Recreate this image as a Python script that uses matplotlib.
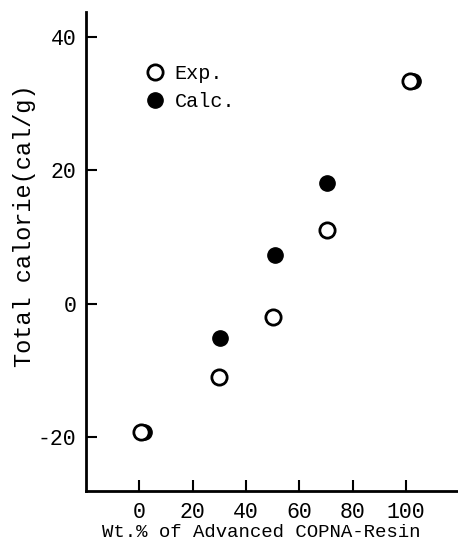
import matplotlib
matplotlib.use("Agg")
import matplotlib.pyplot as plt

# values
exp_x = [0.5, 30.0, 50.2, 70.3, 101.5]
exp_y = [-19.2, -11.0, -2.0, 11.0, 33.4]
calc_x = [1.8, 30.4, 50.7, 70.5, 102.6]
calc_y = [-19.2, -5.1, 7.3, 18.0, 33.4]

xticks = [0, 20, 40, 60, 80, 100]
yticks = [-20, 0, 20, 40]

font = "Liberation Mono"
plt.rcParams["axes.unicode_minus"] = False

fig = plt.figure(figsize=(4.58, 5.41), dpi=100)
ax = fig.add_axes([86 / 458, 50 / 541, 372 / 458, 479 / 541])

ax.plot(calc_x, calc_y, "o", color="black", markersize=11, label="Calc.", zorder=3)
ax.plot(exp_x, exp_y, "o", markerfacecolor="white", markeredgecolor="black",
        markeredgewidth=2, markersize=11, label="Exp.", zorder=4)

ax.set_xlim(-20, 119.5)
ax.set_ylim(-28.1, 43.7)
ax.set_xticks(xticks)
ax.set_yticks(yticks)

for side in ["top", "right"]:
    ax.spines[side].set_visible(False)
for side in ["left", "bottom"]:
    ax.spines[side].set_linewidth(2)

ax.tick_params(axis="both", direction="in", width=1.5, length=8, labelsize=15.5)
ax.tick_params(axis="x", pad=8)
ax.tick_params(axis="y", pad=7)
for lab in ax.get_xticklabels() + ax.get_yticklabels():
    lab.set_family(font)

ax.set_xlabel("Wt.% of Advanced COPNA-Resin", fontsize=13.7, family=font)
ax.xaxis.set_label_coords(0.47, -0.068)
ax.set_ylabel("Total calorie(cal/g)", fontsize=17, family=font)
ax.yaxis.set_label_coords(-0.134, 0.553)

handles, labels = ax.get_legend_handles_labels()
leg = ax.legend(handles[::-1], labels[::-1], loc="upper left",
                bbox_to_anchor=(0.114, 0.93), frameon=False,
                handlelength=0.8, handletextpad=0.6, labelspacing=0.45,
                prop={"family": font, "size": 14.5})

fig.savefig("out.png", dpi=100)
